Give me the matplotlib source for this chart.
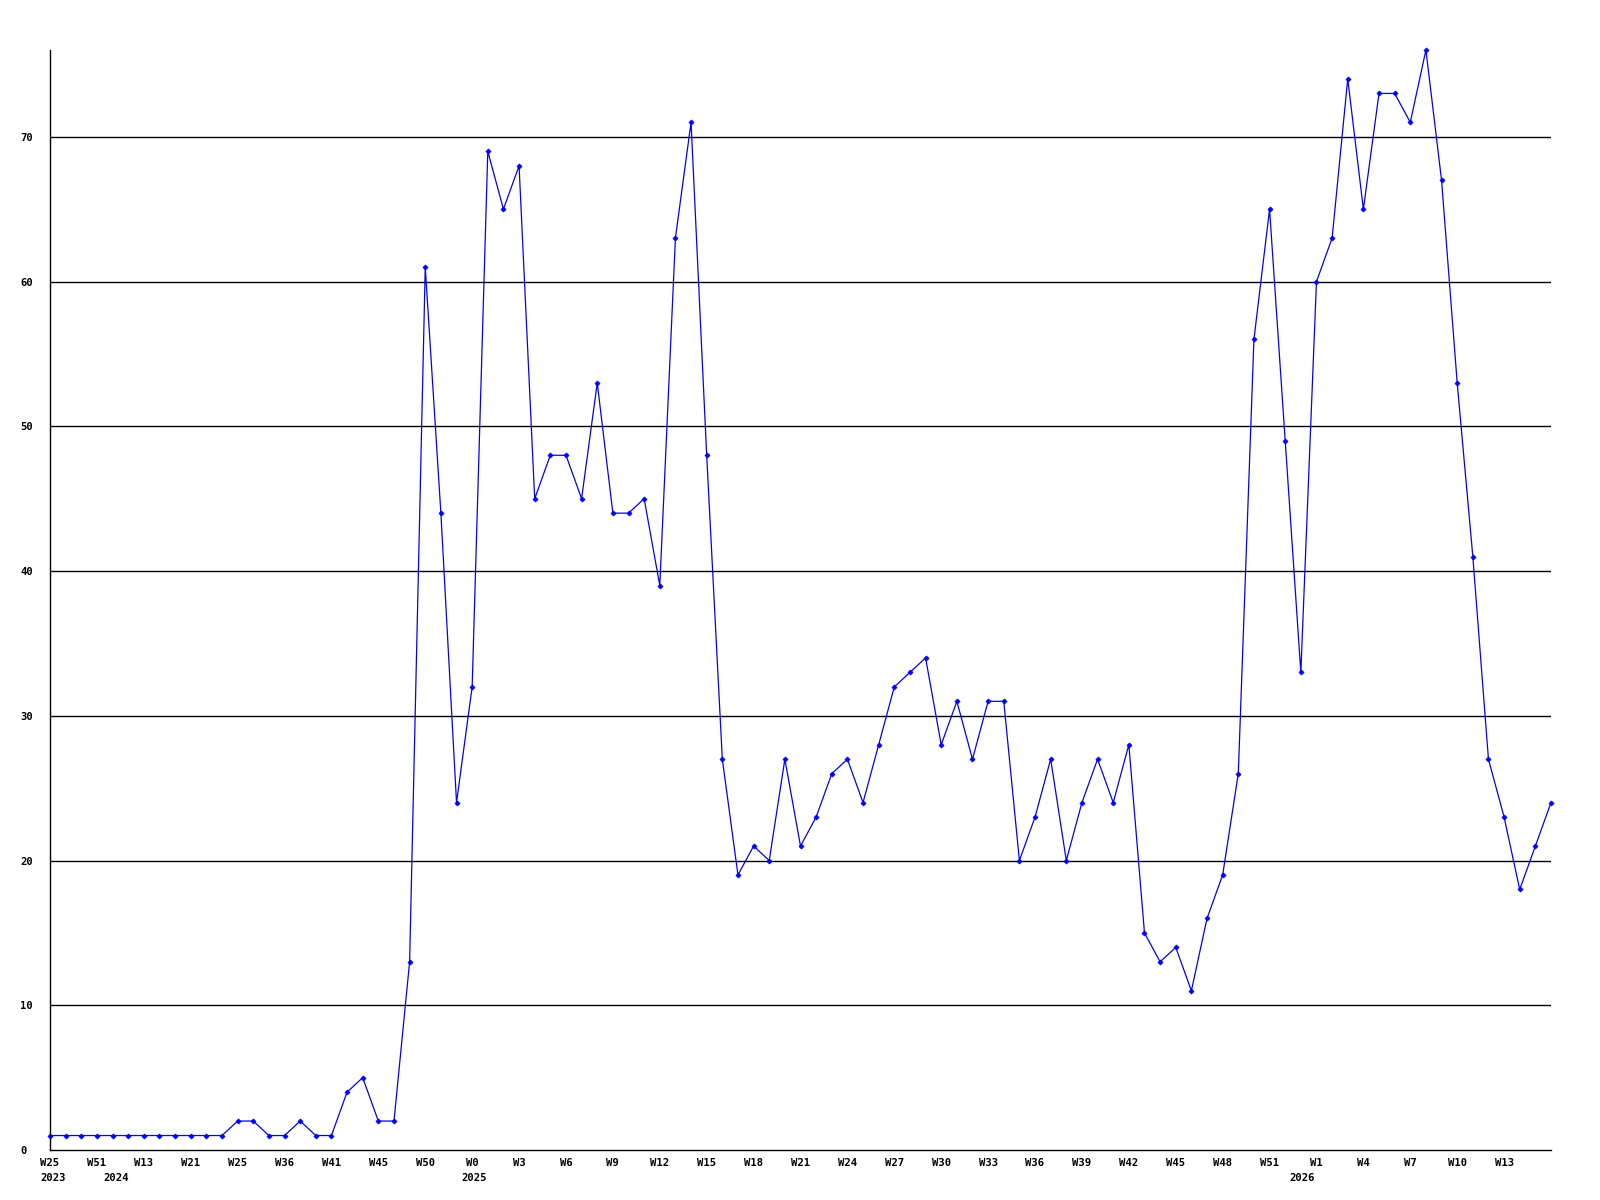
import matplotlib
matplotlib.use("Agg")
import matplotlib.pyplot as plt
import matplotlib.transforms as mtransforms

values = [1, 1, 1, 1, 1, 1, 1, 1, 1, 1, 1, 1, 2, 2, 1, 1, 2, 1, 1, 4,
          5, 2, 2, 13, 61, 44, 24, 32, 69, 65, 68, 45, 48, 48, 45, 53, 44, 44, 45, 39,
          63, 71, 48, 27, 19, 21, 20, 27, 21, 23, 26, 27, 24, 28, 32, 33, 34, 28, 31, 27,
          31, 31, 20, 23, 27, 20, 24, 27, 24, 28, 15, 13, 14, 11, 16, 19, 26, 56, 65, 49,
          33, 60, 63, 74, 65, 73, 73, 71, 76, 67, 53, 41, 27, 23, 18, 21, 24]

week_labels = ["W25", "W51", "W13", "W21", "W25", "W36", "W41", "W45", "W50", "W0",
               "W3", "W6", "W9", "W12", "W15", "W18", "W21", "W24", "W27", "W30",
               "W33", "W36", "W39", "W42", "W45", "W48", "W51", "W1", "W4", "W7",
               "W10", "W13"]
week_label_idx = [3 * i for i in range(len(week_labels))]

year_labels = ["2023", "2024", "2025", "2026"]
year_label_pos = [0.2, 4.2, 27.1, 80.1]

y_ticks = [0, 10, 20, 30, 40, 50, 60, 70]

FONT = "DejaVu Sans Mono"
FS = 7.6

fig = plt.figure(figsize=(16, 12), dpi=100)
ax = fig.add_axes([50 / 1600, 50 / 1200, (1551 - 50) / 1600, (1150 - 50) / 1200])

x = list(range(len(values)))
ax.plot(x, values, color="#0000ff", linewidth=0.9, marker="D", markersize=2.6,
        markeredgewidth=0.5, markerfacecolor="#0000ff", markeredgecolor="#0000ff",
        zorder=3, clip_on=False)

ax.set_xlim(0, len(values) - 1)
ax.set_ylim(0, max(values))

for v in y_ticks[1:]:
    ax.axhline(v, color="black", linewidth=1.0, zorder=1)

for side in ("top", "right"):
    ax.spines[side].set_visible(False)
for side in ("left", "bottom"):
    ax.spines[side].set_color("black")
    ax.spines[side].set_linewidth(1.0)

ax.set_yticks(y_ticks)
ax.set_yticklabels([str(v) for v in y_ticks], fontfamily=FONT, fontsize=FS,
                   fontweight="bold")
for lab in ax.get_yticklabels():
    lab.set_horizontalalignment("left")
ax.tick_params(axis="y", length=0, pad=21.6)

ax.set_xticks(week_label_idx)
ax.set_xticklabels(week_labels, fontfamily=FONT, fontsize=FS, fontweight="bold")
ax.tick_params(axis="x", length=0, pad=5.5)

trans = mtransforms.blended_transform_factory(ax.transData, ax.transAxes)
offset = mtransforms.ScaledTranslation(0, -28 / 100, fig.dpi_scale_trans)
for lab, pos in zip(year_labels, year_label_pos):
    ax.text(pos, 0, lab, transform=trans + offset, ha="center", va="center",
            fontfamily=FONT, fontsize=FS, fontweight="bold")

fig.savefig("out.png", dpi=100, facecolor="white")
